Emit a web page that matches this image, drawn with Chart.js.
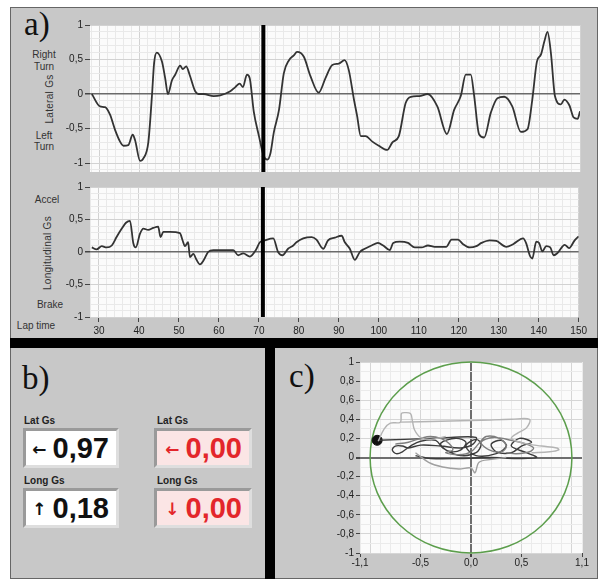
<!DOCTYPE html>
<html>
<head>
<meta charset="utf-8">
<script src="https://cdn.jsdelivr.net/npm/chart.js@4.4.1/dist/chart.umd.min.js"></script>
<style>
  body { margin: 0; width: 598px; height: 579px; background: #fff; position: relative; overflow: hidden;
         font-family: Arial, "Liberation Sans", sans-serif; color: #333; }
  .abs { position: absolute; }
  #frame { left: 10px; top: 7px; width: 586px; height: 570px; background: #c8c8c8; border: 1px solid #666; }
  .bar { background: #000; }
  .panel-tag { font-family: "Liberation Serif", "DejaVu Serif", serif; font-size: 33px; line-height: 1; color: #111; }
  .side { font-size: 10px; line-height: 1; color: #333; transform: translate(-50%, -50%); white-space: nowrap; }
  .rot { transform: translate(-50%, -50%) rotate(-90deg); letter-spacing: 0.3px; }
  .lbl { font-size: 10px; font-weight: bold; color: #222; line-height: 1; }
  .box { box-sizing: border-box; border: 3px solid; border-color: #9a9a9a #dedede #dedede #9a9a9a;
         font-weight: bold; font-size: 29px; line-height: 34px; text-align: right; padding-right: 7px; }
  .box .arr { font-family: "DejaVu Sans", sans-serif; font-weight: bold; font-size: 17px; vertical-align: 3px; margin-right: 6px; }
  .white { background: #fff; color: #111; }
  .pink { background: #fbe5e5; color: #e3262b; }
  canvas { position: absolute; }
</style>
</head>
<body>
<div id="frame" class="abs"></div>
<div class="abs bar" style="left:10px;top:338px;width:588px;height:10px"></div>
<div class="abs bar" style="left:265px;top:348px;width:10px;height:231px"></div>

<div class="abs panel-tag" style="left:24px;top:8px">a)</div>
<div class="abs panel-tag" style="left:22px;top:362px">b)</div>
<div class="abs panel-tag" style="left:289px;top:360px">c)</div>

<div class="abs side" style="left:44px;top:55px">Right</div>
<div class="abs side" style="left:44px;top:67px">Turn</div>
<div class="abs side rot" style="left:50px;top:99px">Lateral Gs</div>
<div class="abs side" style="left:44px;top:136px">Left</div>
<div class="abs side" style="left:44px;top:147px">Turn</div>

<div class="abs side" style="left:47px;top:200px">Accel</div>
<div class="abs side rot" style="left:48px;top:253px">Longitudinal Gs</div>
<div class="abs side" style="left:50px;top:305px">Brake</div>
<div class="abs side" style="left:36px;top:326px">Lap time</div>

<div class="abs lbl" style="left:24px;top:416px">Lat Gs</div>
<div class="abs box white" style="left:23px;top:428px;width:96px;height:40px"><span class="arr">&#8592;</span>0,97</div>
<div class="abs lbl" style="left:24px;top:476px">Long Gs</div>
<div class="abs box white" style="left:23px;top:488px;width:96px;height:40px"><span class="arr">&#8593;</span>0,18</div>

<div class="abs lbl" style="left:157px;top:416px">Lat Gs</div>
<div class="abs box pink" style="left:154px;top:428px;width:98px;height:40px"><span class="arr">&#8592;</span>0,00</div>
<div class="abs lbl" style="left:157px;top:476px">Long Gs</div>
<div class="abs box pink" style="left:154px;top:488px;width:98px;height:40px"><span class="arr">&#8595;</span>0,00</div>

<canvas id="latChart" width="530" height="165" style="left:60px;top:15px"></canvas>
<canvas id="longChart" width="530" height="162" style="left:60px;top:178px"></canvas>
<canvas id="ggChart" width="315" height="225" style="left:280px;top:352px"></canvas>

<script>
// lap time (s) and lateral Gs (top)
const lapTime = [28.2, 30.25, 31.5, 32.75, 34, 35.25, 36.1, 37.3, 38.4, 39, 40.25, 41.1, 42.3, 43.2, 43.75, 44.4,
  45.7, 46.5, 47.2, 48.2, 49, 50.25, 50.9, 51.75, 52.6, 54, 54.8, 56.1, 58.6, 60.25, 62.75, 64, 65.1, 65.9, 66.9,
  67.6, 68.6, 69.9, 71.1, 72, 72.8, 73.6, 74.9, 76.1, 77.4, 78.6, 79.4, 81.1, 82.75, 84.8, 86.5, 88.2, 89.8, 91.25,
  92.3, 93.6, 94.4, 95.3, 96.5, 98.2, 99.8, 101.9, 103.2, 104.8, 106.5, 107.8, 109.9, 112, 114.4, 116.8, 118.6,
  120.25, 121.5, 122.75, 123.6, 124.8, 126.1, 127.75, 129.4, 131.1, 133.1, 135.25, 136.9, 138.1, 139.25, 140.25,
  141.1, 141.9, 142.75, 143.75, 145.25, 146.1, 147.4, 148.4, 149.4, 150];
const lateralGs = [0, -0.18, -0.19, -0.30, -0.52, -0.69, -0.75, -0.74, -0.59, -0.67, -0.97, -0.93, -0.70, -0.03,
  0.45, 0.60, 0.47, 0.23, 0.0, 0.20, 0.28, 0.41, 0.36, 0.40, 0.28, 0.04, 0.0, 0.0, -0.03, -0.02, 0.04, 0.10, 0.15,
  0.10, 0.28, 0.23, -0.25, -0.61, -0.90, -0.95, -0.85, -0.56, -0.23, 0.30, 0.49, 0.56, 0.61, 0.54, 0.26, 0.02,
  0.23, 0.42, 0.44, 0.49, 0.35, -0.08, -0.32, -0.61, -0.61, -0.69, -0.75, -0.81, -0.70, -0.61, -0.13, -0.04,
  -0.03, 0.0, -0.18, -0.58, -0.23, -0.03, 0.28, 0.28, -0.03, -0.58, -0.63, -0.27, -0.06, -0.04, -0.18, -0.55,
  -0.51, -0.08, 0.47, 0.57, 0.76, 0.90, 0.59, -0.03, -0.15, -0.08, -0.17, -0.34, -0.36, -0.25];

// lap time (s) and longitudinal Gs (bottom)
const longTime = [28.2, 29.4, 30.7, 31.9, 33.2, 34.4, 35.7, 36.75, 37.75, 38.6, 39.2, 40.25, 41.1, 42.3, 43.6,
  44.8, 45.4, 46.1, 47.75, 50.25, 50.9, 51.5, 52.3, 52.75, 53.6, 54.4, 55.25, 56.25, 57.3, 58.6, 63.6, 64.8, 66.1,
  67.75, 69.25, 70.25, 71.5, 73.6, 74.8, 75.9, 77.3, 78.6, 79.4, 81.1, 83.2, 84.4, 86.1, 87.3, 89, 90.7, 91.5,
  92.75, 94, 95.25, 96.5, 98.2, 99.8, 101.1, 102.75, 103.6, 105.25, 107.3, 109, 110.7, 112.3, 114, 116.9, 118.2,
  119.8, 121.1, 122.75, 124.4, 125.7, 127.75, 129.4, 131.9, 133.6, 136.1, 136.9, 137.75, 138.4, 139.4, 140.1,
  140.9, 141.9, 142.9, 143.75, 144.8, 146.5, 147.6, 149, 150];
const longitudinalGs = [0.07, 0.04, 0.09, 0.07, 0.10, 0.23, 0.36, 0.45, 0.48, 0.13, 0.07, 0.28, 0.36, 0.34, 0.37,
  0.39, 0.23, 0.31, 0.31, 0.29, 0.18, 0.09, 0.15, -0.08, -0.03, -0.12, -0.19, -0.12, 0.0, 0.03, 0.03, -0.05,
  -0.02, -0.07, 0.03, 0.15, 0.18, 0.21, 0.0, -0.05, 0.05, 0.10, 0.15, 0.21, 0.23, 0.19, 0.05, 0.18, 0.22, 0.25,
  0.15, 0.05, -0.12, 0.0, 0.05, 0.10, 0.14, 0.10, 0.03, 0.14, 0.16, 0.14, 0.07, 0.07, 0.10, 0.08, 0.08, 0.19,
  0.19, 0.12, 0.07, 0.09, 0.14, 0.18, 0.17, 0.08, 0.12, 0.21, 0.13, -0.05, -0.10, 0.16, 0.14, 0.01, 0.09, 0.07,
  -0.05, -0.01, 0.11, 0.06, 0.18, 0.24];

const cursorTime = 71;

// friction circle trace (panel c): lateral / longitudinal pairs, oldest = lightest
const ggLightLat = [-0.92, -0.86, -0.80, -0.70, -0.69, -0.66, -0.60, -0.58, -0.56, -0.50, -0.40, -0.25];
const ggLightLong = [0.17, 0.30, 0.36, 0.37, 0.46, 0.47, 0.46, 0.38, 0.29, 0.21, 0.19, 0.22];
const ggUpperLat = [-0.70, -0.30, 0.10, 0.40, 0.58, 0.55, 0.47, 0.40, 0.52, 0.70, 0.85, 0.87, 0.78, 0.60];
const ggUpperLong = [0.37, 0.38, 0.39, 0.40, 0.40, 0.31, 0.26, 0.20, 0.15, 0.12, 0.10, 0.08, 0.06, 0.05];
const ggLowLat = [-0.55, -0.42, -0.28, -0.12, 0.00, 0.04, 0.08, 0.20, 0.35];
const ggLowLong = [0.05, -0.05, -0.10, -0.12, -0.11, -0.16, -0.05, -0.02, 0.00];
const ggMidLat = [-0.75, -0.62, -0.50, -0.40, -0.30, -0.22, -0.18, -0.25, -0.12, 0.0, 0.08, 0.15, 0.28, 0.35, 0.30,
  0.18, 0.10, 0.22, 0.40, 0.55, 0.62, 0.58, 0.45, 0.35];
const ggMidLong = [0.14, 0.16, 0.20, 0.22, 0.20, 0.15, 0.08, 0.05, 0.03, 0.06, 0.15, 0.22, 0.20, 0.12, 0.06, 0.08,
  0.16, 0.21, 0.18, 0.14, 0.10, 0.06, 0.04, 0.05];
const ggDarkLat = [-0.92, -0.40, -0.20, 0.05, 0.02, -0.10, -0.30, -0.50, -0.62, -0.68, -0.75, -0.78, -0.74, -0.68,
  -0.60, -0.50, -0.35, -0.28, -0.20, -0.10, -0.05, -0.15, -0.30, -0.25, -0.10, 0.05, 0.10, 0.05, -0.05, 0.05, 0.25,
  0.35, 0.30, 0.20, 0.25, 0.40, 0.50, 0.60, 0.48, 0.40, 0.55, 0.65, 0.45, 0.20, -0.10, -0.40, -0.55];
const ggDarkLong = [0.18, 0.20, 0.21, 0.21, 0.14, 0.10, 0.12, 0.13, 0.10, 0.12, 0.12, 0.08, 0.04, 0.06, 0.12, 0.17,
  0.18, 0.10, 0.06, 0.08, 0.16, 0.20, 0.15, 0.08, 0.02, 0.05, 0.14, 0.19, 0.12, 0.02, 0.04, 0.12, 0.18, 0.14, 0.06,
  0.05, 0.12, 0.16, 0.20, 0.12, 0.05, 0.00, -0.01, 0.0, -0.01, -0.01, 0.02];
const ggNowLat = [-0.93];
const ggNowLong = [0.18];
const frictionLimit = 1;

// tick positions
let lapTicks = [];
for (let i = 14; i <= 75; i++) lapTicks.push(i * 2);
let gTicksA = [];
for (let i = -11; i <= 10; i++) gTicksA.push(i / 10);
let gTicksLong = [];
for (let i = -10; i <= 10; i++) gTicksLong.push(i / 10);
let ggTicksX = [];
for (let i = -11; i <= 11; i++) ggTicksX.push(i / 10);
let ggTicksY = [];
for (let i = -10; i <= 10; i++) ggTicksY.push(i / 10);

function pairs(xs, ys) {
  return xs.map((x, i) => ({ x: x, y: ys[i] }));
}

function setTicks(list) {
  return (axis) => { axis.ticks = list.map(v => ({ value: v })); };
}

function onStep(v, step) {
  let r = Math.round(v * 10) / 10;
  return Math.abs(r / step - Math.round(r / step)) < 1e-6;
}

function comma(v) {
  let r = Math.round(v * 10) / 10;
  return Number.isInteger(r) ? String(r) : r.toFixed(1).replace('.', ',');
}

const plotBg = {
  id: 'plotBg',
  beforeDraw(chart) {
    const a = chart.chartArea;
    const ctx = chart.ctx;
    ctx.save();
    ctx.fillStyle = '#fbfbfb';
    ctx.fillRect(a.left, a.top, a.width, a.height);
    ctx.restore();
  }
};

const cursorLine = {
  id: 'cursorLine',
  afterDatasetsDraw(chart) {
    const a = chart.chartArea;
    const ctx = chart.ctx;
    const x = chart.scales.x.getPixelForValue(cursorTime);
    ctx.save();
    ctx.strokeStyle = '#000';
    ctx.lineWidth = 4;
    ctx.beginPath();
    ctx.moveTo(x, a.top);
    ctx.lineTo(x, a.bottom);
    ctx.stroke();
    ctx.restore();
  }
};

const frictionCircle = {
  id: 'frictionCircle',
  beforeDatasetsDraw(chart) {
    const xs = chart.scales.x, ys = chart.scales.y;
    const ctx = chart.ctx;
    const cx = xs.getPixelForValue(0), cy = ys.getPixelForValue(0);
    const rx = xs.getPixelForValue(frictionLimit) - cx;
    const ry = cy - ys.getPixelForValue(frictionLimit);
    ctx.save();
    ctx.strokeStyle = '#5c9e4c';
    ctx.lineWidth = 1.5;
    ctx.beginPath();
    ctx.ellipse(cx, cy, rx, ry, 0, 0, Math.PI * 2);
    ctx.stroke();
    ctx.restore();
  }
};

const tickFont = { family: 'Arial, "Liberation Sans", sans-serif', size: 10 };

function lapAxis(showLabels) {
  return {
    type: 'linear',
    min: 27.75,
    max: 150,
    afterBuildTicks: setTicks(lapTicks),
    afterFit: (s) => { s.height = showLabels ? 23 : 0; },
    border: { display: false },
    ticks: {
      display: showLabels,
      autoSkip: false,
      maxRotation: 0,
      padding: 3,
      font: tickFont,
      color: '#222',
      callback: (v) => (v % 10 === 0 ? String(v) : '')
    },
    grid: {
      drawTicks: showLabels,
      tickLength: 5,
      color: (c) => (c.tick && c.tick.value % 10 === 0 ? '#d2d2d2' : '#e9e9e9'),
      tickColor: (c) => (c.tick && c.tick.value % 10 === 0 ? '#444' : 'rgba(0,0,0,0)')
    }
  };
}

function gAxis(min, ticks) {
  return {
    min: min,
    max: 1,
    afterBuildTicks: setTicks(ticks),
    afterFit: (s) => { s.width = 30; },
    border: { display: false },
    ticks: {
      autoSkip: false,
      padding: 2,
      font: tickFont,
      color: '#222',
      callback: (v) => (onStep(v, 0.5) ? comma(v) : '')
    },
    grid: {
      tickLength: 5,
      color: (c) => {
        if (!c.tick) return '#e9e9e9';
        if (Math.abs(c.tick.value) < 1e-6) return '#6a6a6a';
        return onStep(c.tick.value, 0.5) ? '#d2d2d2' : '#e9e9e9';
      },
      lineWidth: (c) => (c.tick && Math.abs(c.tick.value) < 1e-6 ? 1.5 : 1),
      tickColor: (c) => (c.tick && onStep(c.tick.value, 0.5) ? '#444' : 'rgba(0,0,0,0)')
    }
  };
}

function traceSet(data) {
  return {
    data: data,
    borderColor: '#333',
    borderWidth: 1.8,
    pointRadius: 0,
    cubicInterpolationMode: 'monotone',
    fill: false
  };
}

new Chart(document.getElementById('latChart'), {
  type: 'line',
  data: { datasets: [traceSet(pairs(lapTime, lateralGs))] },
  options: {
    responsive: false,
    animation: false,
    events: [],
    devicePixelRatio: 1,
    layout: { padding: { left: 0, right: 10, top: 10, bottom: 7 } },
    plugins: { legend: { display: false }, tooltip: { enabled: false } },
    scales: { x: lapAxis(false), y: gAxis(-1.13, gTicksA) }
  },
  plugins: [plotBg, cursorLine]
});

new Chart(document.getElementById('longChart'), {
  type: 'line',
  data: { datasets: [traceSet(pairs(longTime, longitudinalGs))] },
  options: {
    responsive: false,
    animation: false,
    events: [],
    devicePixelRatio: 1,
    layout: { padding: { left: 0, right: 10, top: 9, bottom: 0 } },
    plugins: { legend: { display: false }, tooltip: { enabled: false } },
    scales: { x: lapAxis(true), y: gAxis(-1, gTicksLong) }
  },
  plugins: [plotBg, cursorLine]
});

function ggSet(xs, ys, color) {
  return {
    data: pairs(xs, ys),
    showLine: true,
    borderColor: color,
    borderWidth: 1.4,
    pointRadius: 0,
    tension: 0.35
  };
}

function ggGrid(majorStep) {
  return {
    tickLength: 4,
    color: (c) => {
      if (!c.tick) return '#ebebeb';
      if (Math.abs(c.tick.value) < 1e-6) return '#6e6e6e';
      return onStep(c.tick.value, majorStep) ? '#d6d6d6' : '#ebebeb';
    },
    lineWidth: (c) => (c.tick && Math.abs(c.tick.value) < 1e-6 ? 2 : 1)
  };
}

let ggXLabels = [-1.1, -0.5, 0, 0.5, 1.1];

new Chart(document.getElementById('ggChart'), {
  type: 'scatter',
  data: {
    datasets: [
      ggSet(ggLightLat, ggLightLong, '#b4b4b4'),
      ggSet(ggUpperLat, ggUpperLong, '#b4b4b4'),
      ggSet(ggLowLat, ggLowLong, '#a0a0a0'),
      ggSet(ggMidLat, ggMidLong, '#7e7e7e'),
      ggSet(ggDarkLat, ggDarkLong, '#3c3c3c'),
      {
        data: pairs(ggNowLat, ggNowLong),
        pointRadius: 5,
        pointBackgroundColor: '#111',
        pointBorderColor: '#111'
      }
    ]
  },
  options: {
    responsive: false,
    animation: false,
    events: [],
    devicePixelRatio: 1,
    layout: { padding: { left: 0, right: 13, top: 10, bottom: 0 } },
    plugins: { legend: { display: false }, tooltip: { enabled: false } },
    scales: {
      x: {
        min: -1.1,
        max: 1.1,
        afterBuildTicks: setTicks(ggTicksX),
        afterFit: (s) => { s.height = 24; },
        border: { display: false },
        ticks: {
          autoSkip: false,
          maxRotation: 0,
          padding: 0,
          font: tickFont,
          color: '#222',
          callback: (v) => (ggXLabels.some(l => Math.abs(l - v) < 1e-6) ? v.toFixed(1).replace('.', ',') : '')
        },
        grid: Object.assign(ggGrid(0.5), {
          tickColor: (c) => (c.tick && ggXLabels.some(l => Math.abs(l - c.tick.value) < 1e-6) ? '#444' : 'rgba(0,0,0,0)')
        })
      },
      y: {
        min: -1,
        max: 1,
        afterBuildTicks: setTicks(ggTicksY),
        afterFit: (s) => { s.width = 80; },
        border: { display: false },
        ticks: {
          autoSkip: false,
          padding: 2,
          font: tickFont,
          color: '#222',
          callback: (v) => (onStep(v, 0.2) ? comma(v) : '')
        },
        grid: Object.assign(ggGrid(0.2), {
          tickColor: (c) => (c.tick && onStep(c.tick.value, 0.2) ? '#444' : 'rgba(0,0,0,0)')
        })
      }
    }
  },
  plugins: [plotBg, frictionCircle]
});
</script>
</body>
</html>
